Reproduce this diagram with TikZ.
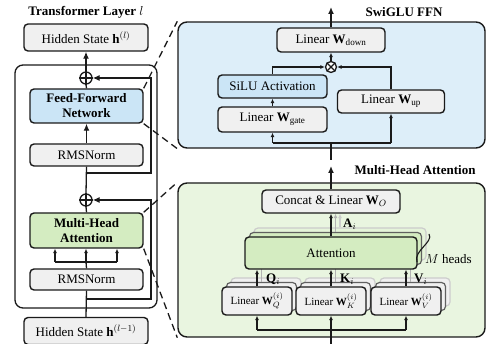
\RequirePackage{fix-cm}
\documentclass[tikz,border=0pt]{standalone}
\usepackage{fontspec}
\setmainfont{Liberation Serif}
\usetikzlibrary{arrows.meta}
\definecolor{boxgray}{HTML}{F0F0F0}
\definecolor{ffnblue}{HTML}{CBE5F6}
\definecolor{ffnbg}{HTML}{DDEEF9}
\definecolor{mhagreen}{HTML}{D4ECC1}
\definecolor{mhabg}{HTML}{E9F5E0}
\definecolor{edge}{HTML}{1A1A1A}
\begin{document}
\begin{tikzpicture}[x=1pt,y=-1pt,
  every node/.style={font=\fontsize{13}{15}\selectfont},
  blk/.style={draw=edge, line width=1.4pt, rounded corners=4pt, fill=boxgray, inner sep=0pt, align=center},
  small/.style={font=\fontsize{11}{13}\selectfont},
  region/.style={draw=edge, line width=1.4pt, rounded corners=9pt, inner sep=0pt},
  ln/.style={line width=1.3pt, draw=edge},
  arr/.style={ln, -{Latex[length=7pt,width=6pt]}},
  sarr/.style={ln, -{Latex[length=4.5pt,width=4pt]}},
  dsh/.style={line width=1.3pt, draw=edge, dash pattern=on 7pt off 4.5pt},
  opnode/.style={circle, draw=edge, line width=1.3pt, fill=white, inner sep=0pt},
  ttl/.style={font=\fontsize{13}{15}\selectfont\bfseries},
  cpyA/.style={draw=gray!40, line width=1.2pt},
  cpyB/.style={draw=gray!75!black, line width=1.2pt},
]
\useasboundingbox (0,0) rectangle (490,344);

% ---------------- left column ----------------
\node[ttl] (ltitle) at (86,12) {Transformer Layer $l$};
\node[region, line width=1.3pt, rounded corners=8pt, minimum width=142pt, minimum height=243pt] (layer) at (86,186.5) {};

\node[blk, minimum width=124pt, minimum height=27pt] (hstop) at (86,37.5) {Hidden State $\mathbf{h}^{(l)}$};
\node[opnode, minimum size=12pt] (p1) at (86,78) {};
\draw[ln] (p1.north) -- (p1.south) (p1.west) -- (p1.east);
\node[blk, fill=ffnblue, font=\fontsize{13}{15}\selectfont\bfseries, minimum width=113pt, minimum height=34pt] (ffn) at (86.5,106) {Feed-Forward\\Network};
\node[blk, minimum width=113pt, minimum height=22pt] (rms1) at (86.5,155) {RMSNorm};
\node[opnode, minimum size=12pt] (p2) at (86,200) {};
\draw[ln] (p2.north) -- (p2.south) (p2.west) -- (p2.east);
\node[blk, fill=mhagreen, font=\fontsize{13}{15}\selectfont\bfseries, minimum width=113pt, minimum height=35pt] (mha) at (86.5,230.5) {Multi-Head\\Attention};
\node[blk, minimum width=113pt, minimum height=21pt] (rms2) at (86.5,279.5) {RMSNorm};
\node[blk, minimum width=124pt, minimum height=27pt] (hsbot) at (86,331) {Hidden State $\mathbf{h}^{(l-1)}$};

\coordinate (r2) at (86,299);
\coordinate (r1) at (86,173);
\coordinate (sp) at (86,262);
\coordinate (spl) at (55,262);
\coordinate (spr) at (117,262);
\draw[ln] (hsbot.north) -- (rms2.south);
\draw[arr] (r2) -- ++(65,0) |- (p2.east);
\draw[ln] (rms2.north) -- (sp);
\draw[ln] (spl) -- (spr);
\draw[sarr] (spl) -- (spl |- mha.south);
\draw[sarr] (sp) -- (sp |- mha.south);
\draw[sarr] (spr) -- (spr |- mha.south);
\draw[ln] (mha.north) -- (p2.south);
\draw[ln] (p2.north) -- (rms1.south);
\draw[arr] (r1) -- ++(65,0) |- (p1.east);
\draw[arr] (rms1.north) -- (ffn.south);
\draw[ln] (ffn.north) -- (p1.south);
\draw[arr] (p1.north) -- (hstop.south);

% ---------------- SwiGLU FFN ----------------
\node[region, fill=ffnbg, minimum width=307pt, minimum height=126pt] (swi) at (331.5,85) {};
\node[ttl] (swit) at (404,12) {SwiGLU FFN};
\node[blk, minimum width=108pt, minimum height=24pt] (wdown) at (331,40) {Linear $\mathbf{W}_{\mathrm{down}}$};
\node[opnode, minimum size=11pt] (ot) at (331,67) {};
\draw[line width=1.2pt, draw=edge] (ot.north east) -- (ot.south west) (ot.north west) -- (ot.south east);
\node[blk, fill=ffnblue, minimum width=109pt, minimum height=23pt] (silu) at (272.5,86.5) {SiLU Activation};
\node[blk, minimum width=109pt, minimum height=25pt] (wgate) at (272.5,119.5) {Linear $\mathbf{W}_{\mathrm{gate}}$};
\node[blk, minimum width=107pt, minimum height=23pt] (wup) at (391,101.5) {Linear $\mathbf{W}_{\mathrm{up}}$};

\coordinate (fin) at (331,160);
\coordinate (fsp) at (331,143);
\coordinate (fout) at (331,7);
\draw[ln] (fin) -- (fsp);
\draw[ln] (wgate.south |- fsp) -- (wup.south |- fsp);
\draw[sarr] (wgate.south |- fsp) -- (wgate.south);
\draw[sarr] (wup.south |- fsp) -- (wup.south);
\draw[sarr] (wgate.north) -- (silu.south);
\draw[sarr] (silu.north) |- (ot.west);
\draw[sarr] (wup.north) |- (ot.east);
\draw[sarr] (ot.north) -- (wdown.south);
\draw[arr] (wdown.north) -- (fout);

% ---------------- Multi-Head Attention ----------------
\node[region, fill=mhabg, minimum width=307pt, minimum height=154pt] (mhr) at (331.5,260) {};
\node[ttl] (mhat) at (415,170) {Multi-Head Attention};
\node[blk, minimum width=138pt, minimum height=23pt] (concat) at (331,201.5) {Concat \& Linear $\mathbf{W}_O$};

% back copy
\begin{scope}[shift={(9,-9)}]
  \node[blk, cpyA, fill=mhagreen!60!white, minimum width=172pt, minimum height=32pt] (attA) at (331,253) {};
  \node[blk, cpyA, minimum width=70pt, minimum height=28pt] (wqA) at (257,301) {};
  \node[blk, cpyA, minimum width=70pt, minimum height=28pt] (wkA) at (331,301) {};
  \node[blk, cpyA, minimum width=70pt, minimum height=28pt] (wvA) at (406,301) {};
  \draw[cpyA, -{Latex[length=4.5pt,width=4pt]}] (attA.north) -- (attA.north |- concat.south);
\end{scope}
% middle copy
\begin{scope}[shift={(4.5,-4.5)}]
  \node[blk, cpyB, fill=mhagreen, minimum width=172pt, minimum height=32pt] (attB) at (331,253) {};
  \node[blk, cpyB, minimum width=70pt, minimum height=28pt] (wqB) at (257,301) {};
  \node[blk, cpyB, minimum width=70pt, minimum height=28pt] (wkB) at (331,301) {};
  \node[blk, cpyB, minimum width=70pt, minimum height=28pt] (wvB) at (406,301) {};
  \draw[cpyB, draw=gray!60, -{Latex[length=4.5pt,width=4pt]}] (attB.north) -- (attB.north |- concat.south);
  \draw[cpyB, draw=gray!60] (wqB.north) -- (wqB.north |- attB.south);
  \draw[cpyB, draw=gray!60] (wkB.north) -- (wkB.north |- attB.south);
  \draw[cpyB, draw=gray!60] (wvB.north) -- (wvB.north |- attB.south);
\end{scope}
% front
\node[blk, fill=mhagreen, minimum width=172pt, minimum height=32pt] (att) at (331,253) {Attention};
\node[blk, small, minimum width=70pt, minimum height=28pt] (wq) at (257,301) {Linear $\mathbf{W}_Q^{(i)}$};
\node[blk, small, minimum width=70pt, minimum height=28pt] (wk) at (331,301) {Linear $\mathbf{W}_K^{(i)}$};
\node[blk, small, minimum width=70pt, minimum height=28pt] (wv) at (406,301) {Linear $\mathbf{W}_V^{(i)}$};

\coordinate (min) at (331,344);
\coordinate (msp) at (331,330);
\coordinate (mout) at (331,166);
\draw[ln] (min) -- (msp);
\draw[ln] (wq.south |- msp) -- (wv.south |- msp);
\draw[sarr] (wq.south |- msp) -- (wq.south);
\draw[sarr] (msp) -- (wk.south);
\draw[sarr] (wv.south |- msp) -- (wv.south);
\draw[sarr] (wq.north) -- (wq.north |- att.south);
\draw[sarr] (wk.north) -- (wk.north |- att.south);
\draw[sarr] (wv.north) -- (wv.north |- att.south);
\node[anchor=west, inner sep=0pt] (ql) at (266,279) {$\mathbf{Q}_i$};
\node[anchor=west, inner sep=0pt] (kl) at (340,279) {$\mathbf{K}_i$};
\node[anchor=west, inner sep=0pt] (vl) at (414,279) {$\mathbf{V}_i$};
\draw[sarr] (att.north) -- (att.north |- concat.south);
\node[anchor=west, inner sep=0pt] (al) at (343,224) {$\mathbf{A}_i$};
\draw[arr] (concat.north) -- (mout);

% M heads bracket
\coordinate (bt) at (429,234);
\coordinate (bb) at (417,262);
\draw[line width=1.1pt, draw=edge] (bt) .. controls (434,242) and (413,251) .. (bb);
\node[anchor=west, inner sep=0pt] (mh) at (425,259) {$M$ heads};

% dashed zoom lines
\draw[dsh] (ffn.north east) -- (swi.north west);
\draw[dsh] (ffn.south east) -- (swi.south west);
\draw[dsh] (mha.north east) -- (mhr.north west);
\draw[dsh] (mha.south east) -- (mhr.south west);
\end{tikzpicture}
\end{document}
